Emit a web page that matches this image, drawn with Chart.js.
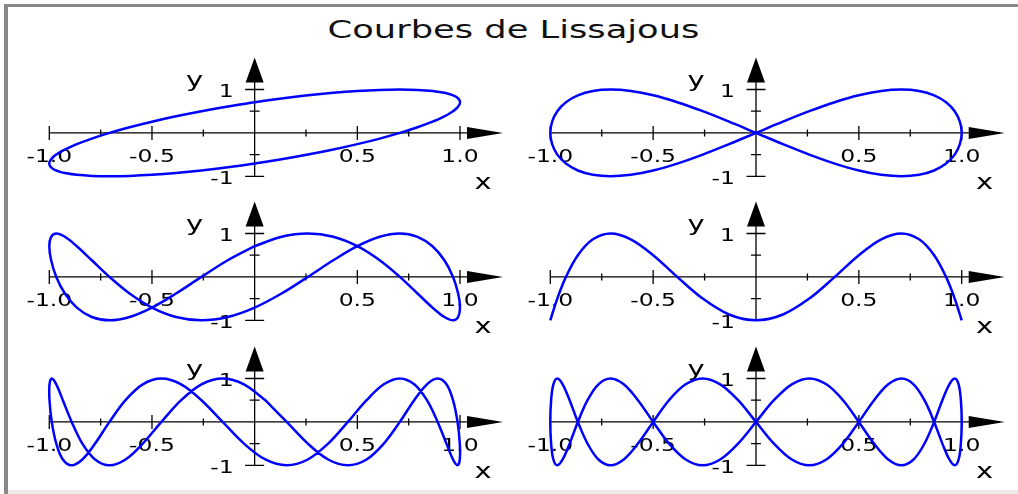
<!DOCTYPE html>
<html lang="fr">
<head>
<meta charset="utf-8">
<title>Courbes de Lissajous</title>
<script src="https://cdn.jsdelivr.net/npm/chart.js@4.4.1/dist/chart.umd.min.js"></script>
<style>
  html, body { margin: 0; padding: 0; background: #fff; }
  #page { position: relative; width: 1018px; height: 494px; overflow: hidden; background: #fff; }
  #cadre-haut { position: absolute; left: 4px; top: 4px; right: 0; height: 3px; background: #888; }
  #cadre-gauche { position: absolute; left: 4px; top: 4px; width: 4px; bottom: 0; background: #888; }
  #cadre-bas { position: absolute; left: 8px; right: 0; bottom: 0; height: 4px; background: #ececec; }
  #titre { position: absolute; left: 0; top: 17px; width: 1027px; text-align: center;
           font: 25px/25px "DejaVu Sans", sans-serif; color: #111; white-space: nowrap;
           transform: scaleX(1.41); transform-origin: 513.5px 0; }
  canvas { position: absolute; }
  #c1 { left: 0; top: 53px; }
  #c2 { left: 509px; top: 53px; }
  #c3 { left: 0; top: 197px; }
  #c4 { left: 509px; top: 197px; }
  #c5 { left: 0; top: 342px; }
  #c6 { left: 509px; top: 342px; }
</style>
</head>
<body>
<div id="page">
  <div id="titre">Courbes de Lissajous</div>
  <canvas id="c1" width="509" height="145"></canvas>
  <canvas id="c2" width="509" height="145"></canvas>
  <canvas id="c3" width="509" height="145"></canvas>
  <canvas id="c4" width="509" height="145"></canvas>
  <canvas id="c5" width="509" height="145"></canvas>
  <canvas id="c6" width="509" height="145"></canvas>
  <div id="cadre-haut"></div>
  <div id="cadre-gauche"></div>
  <div id="cadre-bas"></div>
</div>
<script>
// graduations et étiquettes des axes
const graduationsX = [-1, -0.75, -0.5, -0.25, 0.25, 0.5, 0.75, 1];
const valeursEtiquettesX = [-1, -0.5, 0.5, 1];
const textesEtiquettesX = ['-1.0', '-0.5', '0.5', '1.0'];
const graduationsY = [1, 0.5, -0.5, -1];
const valeursEtiquettesY = [1, -1];
const textesEtiquettesY = ['1', '-1'];
const nomAxeX = 'x';
const nomAxeY = 'y';

// points (x, y) de chaque courbe, dans l'ordre du tracé
const courbe1 = [[0,0.707],[0.131,0.793],[0.259,0.866],[0.383,0.924],[0.5,0.966],[0.609,0.991],[0.707,1],[0.793,0.991],[0.866,0.966],[0.924,0.924],[0.947,0.897],[0.966,0.866],[0.981,0.832],[0.991,0.793],[0.998,0.752],[1,0.707],[0.998,0.659],[0.991,0.609],[0.981,0.556],[0.966,0.5],[0.947,0.442],[0.924,0.383],[0.866,0.259],[0.793,0.131],[0.707,0],[0.609,-0.131],[0.5,-0.259],[0.383,-0.383],[0.259,-0.5],[0.131,-0.609],[0,-0.707],[-0.131,-0.793],[-0.259,-0.866],[-0.383,-0.924],[-0.5,-0.966],[-0.609,-0.991],[-0.707,-1],[-0.793,-0.991],[-0.866,-0.966],[-0.924,-0.924],[-0.947,-0.897],[-0.966,-0.866],[-0.981,-0.832],[-0.991,-0.793],[-0.998,-0.752],[-1,-0.707],[-0.998,-0.659],[-0.991,-0.609],[-0.981,-0.556],[-0.966,-0.5],[-0.947,-0.442],[-0.924,-0.383],[-0.866,-0.259],[-0.793,-0.131],[-0.707,0],[-0.609,0.131],[-0.5,0.259],[-0.383,0.383],[-0.259,0.5],[-0.131,0.609],[0,0.707]];

const courbe2 = [[0,0],[0.131,0.259],[0.259,0.5],[0.383,0.707],[0.5,0.866],[0.609,0.966],[0.707,1],[0.793,0.966],[0.866,0.866],[0.924,0.707],[0.966,0.5],[0.991,0.259],[1,0],[0.991,-0.259],[0.966,-0.5],[0.924,-0.707],[0.866,-0.866],[0.793,-0.966],[0.707,-1],[0.609,-0.966],[0.5,-0.866],[0.383,-0.707],[0.259,-0.5],[0.131,-0.259],[0,0],[-0.131,0.259],[-0.259,0.5],[-0.383,0.707],[-0.5,0.866],[-0.609,0.966],[-0.707,1],[-0.793,0.966],[-0.866,0.866],[-0.924,0.707],[-0.966,0.5],[-0.991,0.259],[-1,0],[-0.991,-0.259],[-0.966,-0.5],[-0.924,-0.707],[-0.866,-0.866],[-0.793,-0.966],[-0.707,-1],[-0.609,-0.966],[-0.5,-0.866],[-0.383,-0.707],[-0.259,-0.5],[-0.131,-0.259],[0,0]];

const courbe3 = [[0,0.707],[0.131,0.924],[0.259,1],[0.383,0.924],[0.5,0.707],[0.609,0.383],[0.707,0],[0.793,-0.383],[0.866,-0.707],[0.924,-0.924],[0.966,-1],[0.991,-0.924],[1,-0.707],[0.991,-0.383],[0.966,0],[0.924,0.383],[0.866,0.707],[0.793,0.924],[0.707,1],[0.609,0.924],[0.5,0.707],[0.383,0.383],[0.259,0],[0.131,-0.383],[0,-0.707],[-0.131,-0.924],[-0.259,-1],[-0.383,-0.924],[-0.5,-0.707],[-0.609,-0.383],[-0.707,0],[-0.793,0.383],[-0.866,0.707],[-0.924,0.924],[-0.966,1],[-0.991,0.924],[-1,0.707],[-0.991,0.383],[-0.966,0],[-0.924,-0.383],[-0.866,-0.707],[-0.793,-0.924],[-0.707,-1],[-0.609,-0.924],[-0.5,-0.707],[-0.383,-0.383],[-0.259,0],[-0.131,0.383],[0,0.707]];

const courbe4 = [[-1,-1],[-0.991,-0.866],[-0.966,-0.5],[-0.924,0],[-0.866,0.5],[-0.793,0.866],[-0.707,1],[-0.609,0.866],[-0.5,0.5],[-0.383,0],[-0.259,-0.5],[-0.131,-0.866],[0,-1],[0.131,-0.866],[0.259,-0.5],[0.383,0],[0.5,0.5],[0.609,0.866],[0.707,1],[0.793,0.866],[0.866,0.5],[0.924,0],[0.966,-0.5],[0.991,-0.866],[1,-1]];

const courbe5 = [[0.052,0.5],[0.156,0],[0.259,-0.5],[0.358,-0.866],[0.454,-1],[0.545,-0.866],[0.629,-0.5],[0.707,0],[0.777,0.5],[0.839,0.866],[0.891,1],[0.934,0.866],[0.966,0.5],[0.988,0],[0.999,-0.5],[0.999,-0.866],[0.988,-1],[0.966,-0.866],[0.934,-0.5],[0.891,0],[0.839,0.5],[0.777,0.866],[0.707,1],[0.629,0.866],[0.545,0.5],[0.454,0],[0.358,-0.5],[0.259,-0.866],[0.156,-1],[0.052,-0.866],[-0.052,-0.5],[-0.156,0],[-0.259,0.5],[-0.358,0.866],[-0.454,1],[-0.545,0.866],[-0.629,0.5],[-0.707,0],[-0.777,-0.5],[-0.839,-0.866],[-0.891,-1],[-0.934,-0.866],[-0.966,-0.5],[-0.988,0],[-0.999,0.5],[-0.999,0.866],[-0.988,1],[-0.966,0.866],[-0.934,0.5],[-0.891,0],[-0.839,-0.5],[-0.777,-0.866],[-0.707,-1],[-0.629,-0.866],[-0.545,-0.5],[-0.454,0],[-0.358,0.5],[-0.259,0.866],[-0.156,1],[-0.052,0.866],[0.052,0.5]];

const courbe6 = [[0,0],[0.087,0.5],[0.174,0.866],[0.259,1],[0.342,0.866],[0.423,0.5],[0.5,0],[0.574,-0.5],[0.643,-0.866],[0.707,-1],[0.766,-0.866],[0.819,-0.5],[0.866,0],[0.906,0.5],[0.94,0.866],[0.966,1],[0.985,0.866],[0.996,0.5],[1,0],[0.996,-0.5],[0.985,-0.866],[0.966,-1],[0.94,-0.866],[0.906,-0.5],[0.866,0],[0.819,0.5],[0.766,0.866],[0.707,1],[0.643,0.866],[0.574,0.5],[0.5,0],[0.423,-0.5],[0.342,-0.866],[0.259,-1],[0.174,-0.866],[0.087,-0.5],[0,0],[-0.087,0.5],[-0.174,0.866],[-0.259,1],[-0.342,0.866],[-0.423,0.5],[-0.5,0],[-0.574,-0.5],[-0.643,-0.866],[-0.707,-1],[-0.766,-0.866],[-0.819,-0.5],[-0.866,0],[-0.906,0.5],[-0.94,0.866],[-0.966,1],[-0.985,0.866],[-0.996,0.5],[-1,0],[-0.996,-0.5],[-0.985,-0.866],[-0.966,-1],[-0.94,-0.866],[-0.906,-0.5],[-0.866,0],[-0.819,0.5],[-0.766,0.866],[-0.707,1],[-0.643,0.866],[-0.574,0.5],[-0.5,0],[-0.423,-0.5],[-0.342,-0.866],[-0.259,-1],[-0.174,-0.866],[-0.087,-0.5],[0,0]];

// le texte est élargi horizontalement
const ETIREMENT = 1.38;

function texteEtire(ctx, texte, px, py, align) {
    ctx.save();
    ctx.translate(px, py);
    ctx.scale(ETIREMENT, 1);
    ctx.textAlign = align;
    ctx.textBaseline = 'alphabetic';
    ctx.fillText(texte, 0, 0);
    ctx.restore();
}

// axes centrés avec flèches, graduations et étiquettes
const axesFleches = {
    id: 'axesFleches',
    beforeDatasetsDraw(chart) {
        const ctx = chart.ctx;
        const sx = chart.scales.x;
        const sy = chart.scales.y;
        const x0 = sx.getPixelForValue(0);
        const y0 = sy.getPixelForValue(0);
        const xMin = sx.getPixelForValue(-1);
        const xMax = sx.getPixelForValue(1);
        const yMax = sy.getPixelForValue(1);
        const yMin = sy.getPixelForValue(-1);

        ctx.save();
        ctx.strokeStyle = '#000';
        ctx.fillStyle = '#000';
        ctx.lineWidth = 1.3;

        // axe des x
        ctx.beginPath();
        ctx.moveTo(xMin, y0);
        ctx.lineTo(xMax + 38, y0);
        ctx.stroke();
        ctx.beginPath();
        ctx.moveTo(xMax + 7, y0 - 6);
        ctx.lineTo(xMax + 43, y0);
        ctx.lineTo(xMax + 7, y0 + 6);
        ctx.closePath();
        ctx.fill();

        // axe des y
        ctx.beginPath();
        ctx.moveTo(x0, yMin);
        ctx.lineTo(x0, yMax - 28);
        ctx.stroke();
        ctx.beginPath();
        ctx.moveTo(x0 - 9, yMax - 7);
        ctx.lineTo(x0, yMax - 32);
        ctx.lineTo(x0 + 9, yMax - 7);
        ctx.closePath();
        ctx.fill();

        // graduations
        ctx.beginPath();
        graduationsX.forEach(v => {
            const px = sx.getPixelForValue(v);
            const h = valeursEtiquettesX.includes(v) ? 7 : 3.5;
            ctx.moveTo(px, y0 - h);
            ctx.lineTo(px, y0 + h);
        });
        graduationsY.forEach(v => {
            const py = sy.getPixelForValue(v);
            const l = valeursEtiquettesY.includes(v) ? 9.5 : 5;
            ctx.moveTo(x0 - l, py);
            ctx.lineTo(x0 + l, py);
        });
        ctx.stroke();

        // étiquettes
        ctx.font = '17px "DejaVu Sans"';
        valeursEtiquettesX.forEach((v, i) => {
            texteEtire(ctx, textesEtiquettesX[i], sx.getPixelForValue(v), y0 + 29, 'center');
        });
        valeursEtiquettesY.forEach((v, i) => {
            texteEtire(ctx, textesEtiquettesY[i], x0 - 21, sy.getPixelForValue(v) + 7.5, 'right');
        });
        ctx.font = '21px "DejaVu Sans"';
        texteEtire(ctx, nomAxeY, x0 - 60, yMax - 3, 'center');
        texteEtire(ctx, nomAxeX, xMax + 23, yMin + 12.5, 'center');
        ctx.restore();
    }
};

function creerPanneau(canvasId, courbe, colonne) {
    const canvas = document.getElementById(canvasId);
    const marges = colonne === 0
        ? { left: 49.3, right: 49, top: 36.5, bottom: 21.7 }
        : { left: 41.3, right: 56.3, top: 36.5, bottom: 21.7 };

    return new Chart(canvas, {
        type: 'scatter',
        data: {
            datasets: [{
                data: courbe.map(p => ({ x: p[0], y: p[1] })),
                showLine: true,
                borderColor: '#0000ff',
                borderWidth: 2.5,
                borderJoinStyle: 'round',
                pointRadius: 0,
                tension: 0.35,
                fill: false,
                clip: false
            }]
        },
        options: {
            responsive: false,
            animation: false,
            events: [],
            layout: { padding: marges },
            elements: { line: { capBezierPoints: false } },
            scales: {
                x: { type: 'linear', min: -1, max: 1, display: false },
                y: { type: 'linear', min: -1, max: 1, display: false }
            },
            plugins: {
                legend: { display: false },
                tooltip: { enabled: false }
            }
        },
        plugins: [axesFleches]
    });
}

creerPanneau('c1', courbe1, 0);
creerPanneau('c2', courbe2, 1);
creerPanneau('c3', courbe3, 0);
creerPanneau('c4', courbe4, 1);
creerPanneau('c5', courbe5, 0);
creerPanneau('c6', courbe6, 1);
</script>
</body>
</html>
